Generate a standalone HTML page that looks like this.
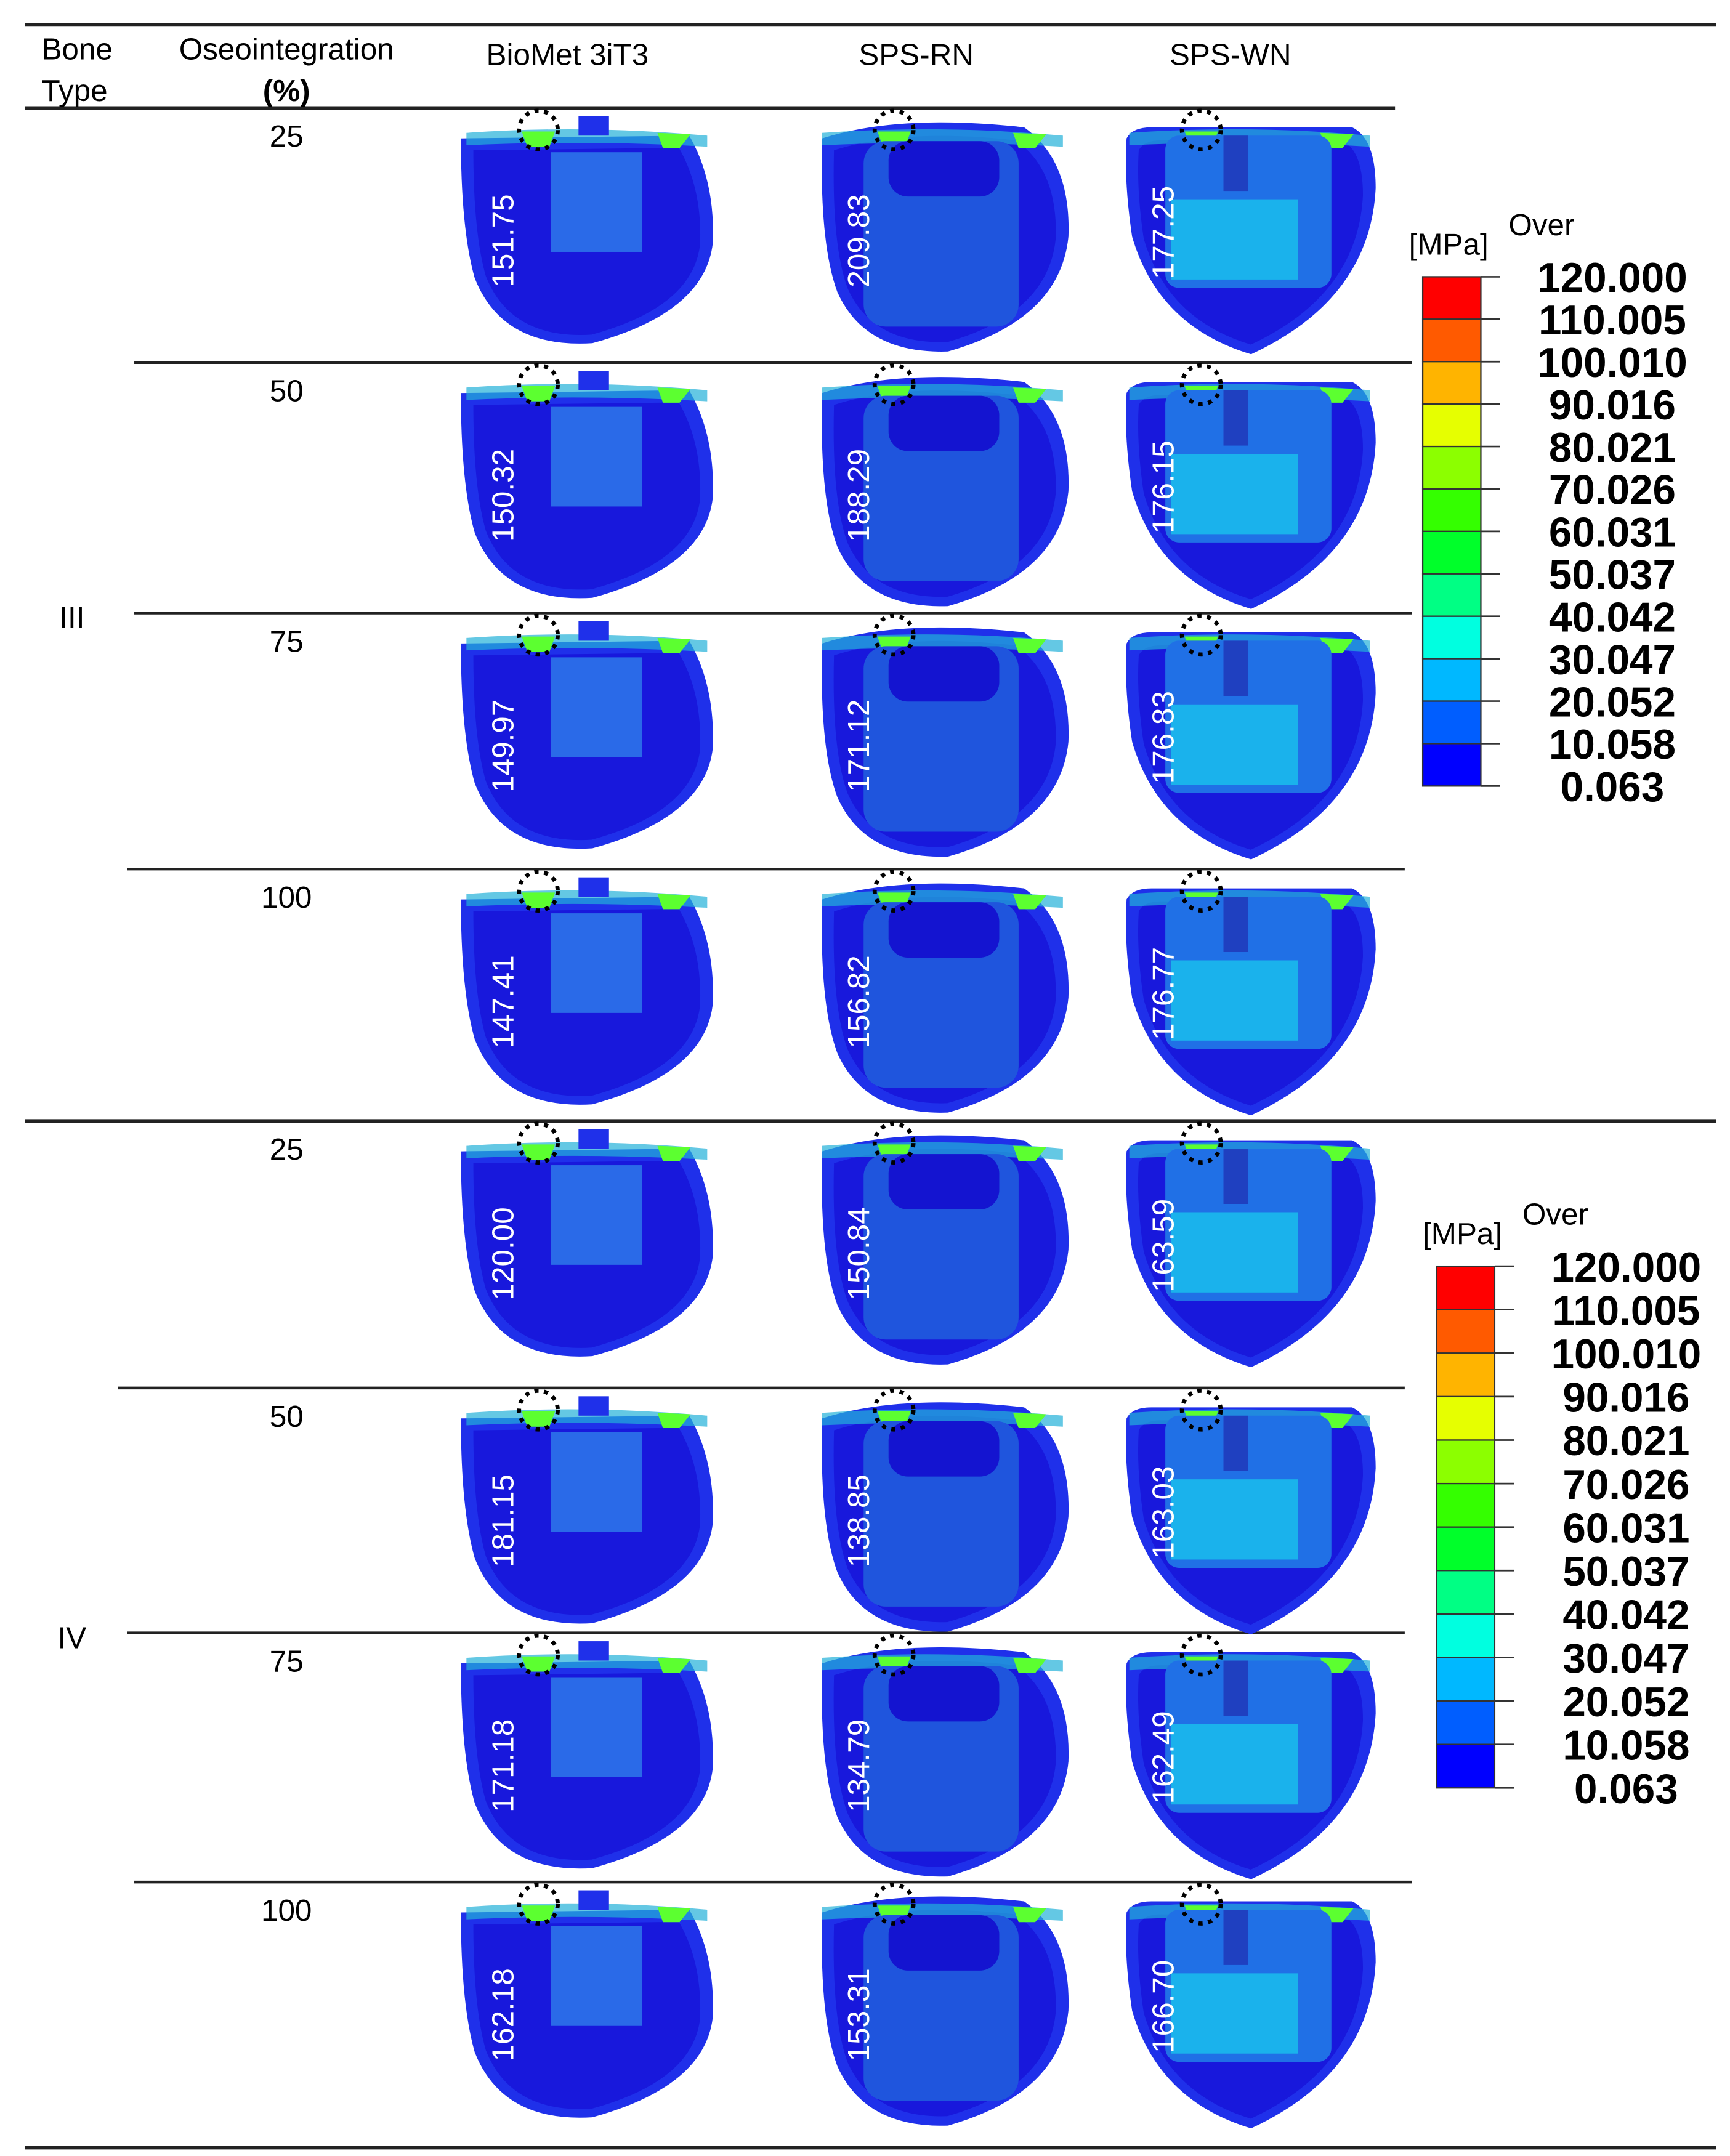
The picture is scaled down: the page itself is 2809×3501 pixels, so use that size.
<!DOCTYPE html>
<html><head><meta charset="utf-8"><style>
html,body{margin:0;padding:0;background:#fff}
svg{display:block}
text{font-family:"Liberation Sans",sans-serif}
</style></head><body>
<svg id="fig" width="2809" height="3501" viewBox="0 0 1250 1558" xmlns="http://www.w3.org/2000/svg">
<g id="grid"></g>
<g id="head">
<text x="30" y="43" font-size="22">Bone</text>
<text x="30" y="73" font-size="22">Type</text>
<text x="207" y="43" font-size="22" text-anchor="middle">Oseointegration</text>
<text x="207" y="73" font-size="22" text-anchor="middle" font-family="Liberation Serif" font-weight="bold">(%)</text>
<text x="410" y="47" font-size="22" text-anchor="middle">BioMet 3iT3</text>
<text x="662" y="47" font-size="22" text-anchor="middle">SPS-RN</text>
<text x="889" y="47" font-size="22" text-anchor="middle">SPS-WN</text>
<text x="52" y="454" font-size="22" text-anchor="middle">III</text>
<text x="52" y="1191" font-size="22" text-anchor="middle">IV</text>
</g>
<g id="cells"></g>
<g id="legends"></g>
</svg>
<script>
const osseo = ["25","50","75","100","25","50","75","100"];
const biometVals = ["151.75","150.32","149.97","147.41","120.00","181.15","171.18","162.18"];
const rnVals = ["209.83","188.29","171.12","156.82","150.84","138.85","134.79","153.31"];
const wnVals = ["177.25","176.15","176.83","176.77","163.59","163.03","162.49","166.70"];
const legendLabels = ["120.000","110.005","100.010","90.016","80.021","70.026","60.031","50.037","40.042","30.047","20.052","10.058","0.063"];
const legendColors = ["#ff0000","#ff5a00","#ffb400","#e6ff00","#8cff00","#34ff00","#00ff2a","#00ff84","#00ffe0","#00b8ff","#005eff","#0000ff"];

const NS="http://www.w3.org/2000/svg";
function mk(tag, attrs, parent){const e=document.createElementNS(NS,tag);for(const k in attrs)e.setAttribute(k,attrs[k]);parent.appendChild(e);return e;}
const grid=document.getElementById('grid'), cells=document.getElementById('cells'), leg=document.getElementById('legends');
const hl=[[18,18,1240,2.5],[78,18,1008,2.5],[262,97,1020,2],[443,97,1020,2],[628,92,1015,2],[810,18,1240,2.5],[1003,85,1015,2],[1180,92,1015,2],[1360,97,1020,2],[1552,18,1240,2.5]];
hl.forEach(h=>{const l=mk('line',{x1:h[1],x2:h[2],y1:h[0],y2:h[0],stroke:'#222','stroke-width':h[3]},grid);

});
const rowTops=[78,262,443,628,810,1003,1180,1360];
const shapes={
 bio:"M0,14 L165,12 Q184,45 182,90 Q176,140 95,162 Q30,166 10,115 Q0,80 0,14 Z",
 rn:"M4,14 Q60,-4 150,6 Q184,30 182,85 Q176,145 95,168 Q35,170 15,125 Q2,90 4,14 Z",
 wn:"M2,14 Q6,6 20,6 L165,6 Q182,14 182,50 Q178,130 92,170 Q25,150 6,85 Q0,45 2,14 Z"};
const cols=[{k:'bio',x:333,vals:biometVals,name:'biomet'},{k:'rn',x:590,vals:rnVals,name:'sps-rn'},{k:'wn',x:812,vals:wnVals,name:'sps-wn'}];
osseo.forEach((o,i)=>{
 const y0=rowTops[i];
 const t=mk('text',{x:207,y:y0+28,'font-size':22,'text-anchor':'middle'},cells);t.textContent=o;
 
 
 cols.forEach(c=>{
  const g=mk('g',{transform:`translate(${c.x},${y0+8})`},cells);
  
  
  mk('path',{d:shapes[c.k],fill:'#1f30ea'},g);
  mk('path',{d:shapes[c.k],fill:'#1818dc',transform:'translate(9,10) scale(0.9)'},g);
  mk('path',{d:'M4,10 Q90,4 178,12 L178,20 Q90,15 4,19 Z',fill:'#22b0d8',opacity:0.7},g);
  mk('path',{d:'M44,9 L68,9 L64,20 L48,20 Z',fill:'#5cff30'},g);
  mk('path',{d:'M142,10 L166,11 L158,21 L146,21 Z',fill:'#5cff30'},g);
  if(c.k==='bio'){mk('rect',{x:85,y:-2,width:22,height:14,fill:'#1f30ea'},g);
   mk('rect',{x:65,y:24,width:66,height:72,fill:'#2a6ae8'},g);}
  else if(c.k==='rn'){mk('rect',{x:34,y:16,width:112,height:134,rx:16,fill:'#1f55dd'},g);
   mk('rect',{x:52,y:16,width:80,height:40,rx:14,fill:'#1414d0'},g);}
  else{mk('rect',{x:30,y:12,width:120,height:110,rx:10,fill:'#2070e6'},g);
   mk('rect',{x:34,y:58,width:92,height:58,fill:'#1ab2ec'},g);
   mk('rect',{x:72,y:12,width:18,height:40,fill:'#1f40c0'},g);}
  mk('circle',{cx:56,cy:8,r:14,fill:'none',stroke:'#000','stroke-width':3,'stroke-dasharray':'3 4'},g);
  const v=mk('text',{x:0,y:0,'font-size':22,fill:'#fff','text-anchor':'middle',transform:(c.k==='wn'?'translate(36,82) rotate(-90)':'translate(38,88) rotate(-90)')},g);
  v.textContent=c.vals[i];
  
  
 });
});
function legend(x,y,h,lx,ly){
 const g=mk('g',{},leg);
 
 
 const u=mk('text',{x:x-10,y:ly+14,'font-size':22},g);u.textContent='[MPa]';
 const ov=mk('text',{x:lx-10,y:ly,'font-size':22},g);ov.textContent='Over';
 const n=legendColors.length, sh=h/n;
 legendColors.forEach((c,i)=>{mk('rect',{x:x,y:y+i*sh,width:42,height:sh,fill:c,stroke:'#333','stroke-width':1},g);});
 legendLabels.forEach((l,i)=>{mk('line',{x1:x+42,x2:x+56,y1:y+i*sh,y2:y+i*sh,stroke:'#333','stroke-width':1.2},g);
  const t=mk('text',{x:lx+65,y:y+i*sh+11,'font-size':30,'font-weight':'bold','text-anchor':'middle','font-family':'DejaVu Sans'},g);t.textContent=l;});
}
legend(1028,200,368,1100,170);
legend(1038,915,377,1110,885);
</script>
</body></html>
